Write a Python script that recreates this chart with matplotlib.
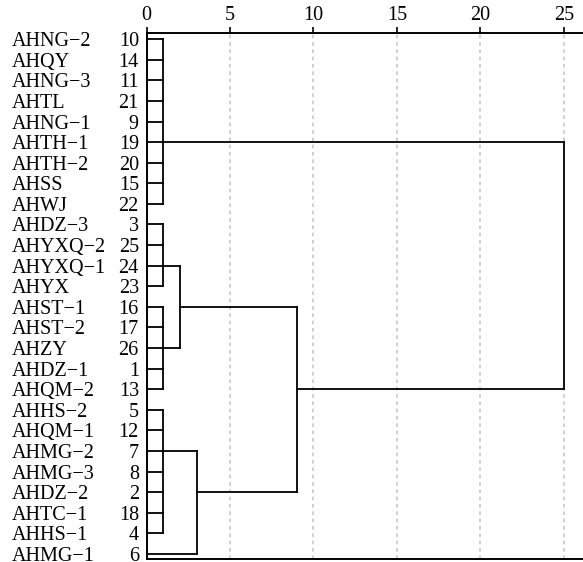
import matplotlib
matplotlib.use("Agg")
import matplotlib.pyplot as plt
from matplotlib.transforms import blended_transform_factory

plt.rcParams["font.family"] = ["Liberation Serif", "DejaVu Serif"]

# leaves, top to bottom
leaf_names = ["AHNG−2", "AHQY", "AHNG−3", "AHTL", "AHNG−1", "AHTH−1", "AHTH−2",
              "AHSS", "AHWJ", "AHDZ−3", "AHYXQ−2", "AHYXQ−1", "AHYX", "AHST−1",
              "AHST−2", "AHZY", "AHDZ−1", "AHQM−2", "AHHS−2", "AHQM−1", "AHMG−2",
              "AHMG−3", "AHDZ−2", "AHTC−1", "AHHS−1", "AHMG−1"]
leaf_ids = [10, 14, 11, 21, 9, 19, 20, 15, 22, 3, 25, 24, 23, 16, 17, 26, 1, 13,
            5, 12, 7, 8, 2, 18, 4, 6]

# clusters: members (leaf rows or cluster names), rescaled distance, row of outgoing link
cluster_names = ["A", "B1a", "B1b", "B1", "C1", "C", "BC", "root"]
cluster_members = [
    [0, 1, 2, 3, 4, 5, 6, 7, 8],
    [9, 10, 11, 12],
    [13, 14, 15, 16, 17],
    ["B1a", "B1b"],
    [18, 19, 20, 21, 22, 23, 24],
    ["C1", 25],
    ["B1", "C"],
    ["A", "BC"],
]
cluster_dist = [1, 1, 1, 2, 1, 3, 9, 25]
cluster_row = [5, 11, 15, 13, 20, 22, 17, None]

ticks = [0, 5, 10, 15, 20, 25]

fig = plt.figure(figsize=(5.83, 5.62), dpi=100)
ax = fig.add_axes([146.5 / 583, 3 / 562, (583 - 146.5) / 583 + 0.01, 526 / 562])

info = {}
for name, members, dist, row in zip(cluster_names, cluster_members, cluster_dist, cluster_row):
    rows = []
    for m in members:
        if isinstance(m, str):
            r, d = info[m]
        else:
            r, d = m, 0
        ax.plot([d, dist], [r, r], color="black", lw=1.3, solid_capstyle="projecting")
        rows.append(r)
    ax.plot([dist, dist], [min(rows), max(rows)], color="black", lw=1.3,
            solid_capstyle="projecting")
    info[name] = (row, dist)

for t in ticks[1:]:
    ax.axvline(t, color="#c8c8c8", lw=1.2, ls=(0, (2.2, 2.2)), zorder=0)

ax.set_xlim(0, (583 - 146.5) / 16.69 + 0.01 * 583 / 16.69)
ax.set_ylim(25.25, -0.3)
ax.xaxis.tick_top()
ax.set_xticks(ticks)
ax.tick_params(axis="x", length=4, width=1.2, pad=2, labelsize=14.5)
ax.set_yticks(range(len(leaf_ids)))
ax.set_yticklabels([str(i) for i in leaf_ids])
ax.tick_params(axis="y", length=0, pad=5.5, labelsize=14.5)
for s in ["top", "bottom", "left"]:
    ax.spines[s].set_linewidth(1.4)
ax.spines["right"].set_visible(False)

tr = blended_transform_factory(fig.transFigure, ax.transData)
for i, n in enumerate(leaf_names):
    ax.text(12 / 583, i, n, transform=tr, ha="left", va="center_baseline", fontsize=14.5)

fig.savefig("out.png", dpi=100)
